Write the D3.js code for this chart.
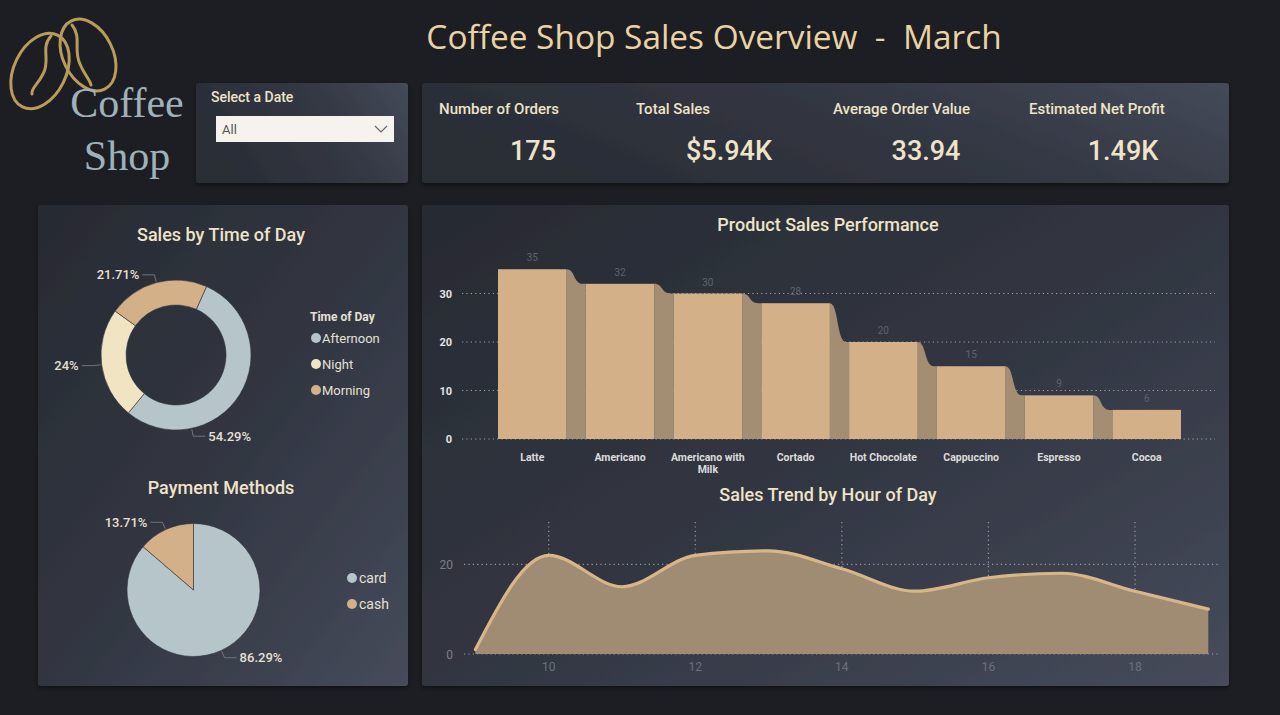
<!DOCTYPE html>
<html><head><meta charset="utf-8">
<script src="https://cdn.jsdelivr.net/npm/d3@7"></script>
<style>
html,body{margin:0;padding:0;background:#1d1e23;overflow:hidden;}
svg{display:block;}
</style></head>
<body>
<svg id="c" width="1280" height="715"></svg>
<script>
// ---------- DATA ----------
const products = ["Latte","Americano","Americano with Milk","Cortado","Hot Chocolate","Cappuccino","Espresso","Cocoa"];
const productSales = [35,32,30,28,20,15,9,6];
const barTicks = [0,10,20,30];

const hours = [9,10,11,12,13,14,15,16,17,18,19];
const hourSales = [1,22,15,22,23,19,14,17,18,14,10];
const hourTicks = [10,12,14,16,18];
const hourYTicks = [0,20];

const timeOfDay = ["Afternoon","Night","Morning"];
const timeOfDaySales = [95,42,38];
const timeOfDayLabels = ["54.29%","24%","21.71%"];

const payMethods = ["card","cash"];
const paySales = [151,24];
const payLabels = ["86.29%","13.71%"];

const kpiNames = ["Number of Orders","Total Sales","Average Order Value","Estimated Net Profit"];
const kpiValues = ["175","$5.94K","33.94","1.49K"];

// ---------- STYLE ----------
const cream = "#efe3c8";
const tan = "#d3b088";
const ribbon = "#a38d73";
const blueGray = "#b6c5ca";
const nightCol = "#f1e4c2";
const font = "Roboto, 'Open Sans', sans-serif";

const svg = d3.select("#c");
const defs = svg.append("defs");
const g1 = defs.append("linearGradient").attr("id","pg").attr("x1","0").attr("y1","0").attr("x2","1").attr("y2","1");
g1.append("stop").attr("offset","0%").attr("stop-color","#272a32");
g1.append("stop").attr("offset","55%").attr("stop-color","#333743");
g1.append("stop").attr("offset","100%").attr("stop-color","#464b5b");
const g2 = defs.append("linearGradient").attr("id","pg2").attr("x1","0").attr("y1","0.3").attr("x2","1").attr("y2","0");
g2.append("stop").attr("offset","0%").attr("stop-color","#2a2d36");
g2.append("stop").attr("offset","60%").attr("stop-color","#353945");
g2.append("stop").attr("offset","100%").attr("stop-color","#454a59");
const sh = defs.append("filter").attr("id","sh").attr("x","-5%").attr("y","-5%").attr("width","110%").attr("height","115%");
sh.append("feDropShadow").attr("dx",0).attr("dy",2).attr("stdDeviation",2).attr("flood-color","#000").attr("flood-opacity",0.45);

svg.append("rect").attr("width",1280).attr("height",715).attr("fill","#1d1e23");

function panel(x,y,w,h,fill){
  svg.append("rect").attr("x",x).attr("y",y).attr("width",w).attr("height",h).attr("rx",3)
    .attr("fill",fill||"url(#pg)").attr("filter","url(#sh)");
}
panel(196,83,212,100,"url(#pg2)");
panel(422,83,807,100,"url(#pg2)");
panel(38,205,370,481);
panel(422,205,807,481);

// ---------- TITLE ----------
svg.append("text").attr("x",714).attr("y",49).attr("text-anchor","middle")
  .attr("font-family","'Open Sans', sans-serif").attr("font-size",33.4).attr("fill","#e9d3a5")
  .text("Coffee Shop Sales Overview  -  March").attr("xml:space","preserve").style("white-space","pre");

// ---------- LOGO ----------
const logo = svg.append("g").attr("fill","none").attr("stroke","#b99b5c").attr("stroke-width",3).attr("stroke-linecap","round");
logo.append("ellipse").attr("cx",40).attr("cy",71).attr("rx",26).attr("ry",40).attr("transform","rotate(26,40,71)");
logo.append("path").attr("d","M51,36 C40,48 51,60 43,74 C37,86 31,88 32,94");
logo.append("ellipse").attr("cx",88).attr("cy",55).attr("rx",25).attr("ry",38).attr("transform","rotate(-26,88,55)");
logo.append("path").attr("d","M72,25 C82,37 73,50 80,64 C84,74 90,80 91,85");
svg.append("text").attr("x",127).attr("y",117).attr("text-anchor","middle")
  .attr("font-family","'Liberation Serif', serif").attr("font-size",42).attr("fill","#9fb1b9").text("Coffee");
svg.append("text").attr("x",127).attr("y",170).attr("text-anchor","middle")
  .attr("font-family","'Liberation Serif', serif").attr("font-size",42).attr("fill","#9fb1b9").text("Shop");

// ---------- SLICER ----------
svg.append("text").attr("x",211).attr("y",102).attr("font-family",font).attr("font-weight",500)
  .attr("font-size",14).attr("fill",cream).text("Select a Date");
svg.append("rect").attr("x",216).attr("y",116).attr("width",178).attr("height",26).attr("fill","#f6f3ee");
svg.append("text").attr("x",222).attr("y",134).attr("font-family",font).attr("font-size",13).attr("fill","#555").text("All");
svg.append("path").attr("d","M375,126 l6,6 l6,-6").attr("fill","none").attr("stroke","#666").attr("stroke-width",1.2);

// ---------- KPIs ----------
const kpiX = [439,636,833,1029];
const kpiVX = [533,729,926,1123];
kpiNames.forEach((n,i)=>{
  svg.append("text").attr("x",kpiX[i]).attr("y",114).attr("font-family",font).attr("font-weight",500)
    .attr("font-size",15).attr("fill",cream).text(n);
  svg.append("text").attr("x",kpiVX[i]).attr("y",160).attr("text-anchor","middle").attr("font-family",font)
    .attr("font-weight",500).attr("font-size",27).attr("fill",cream).text(kpiValues[i]);
});

// ---------- PANEL TITLES ----------
function title(x,y,t){
  svg.append("text").attr("x",x).attr("y",y).attr("text-anchor","middle").attr("font-family",font)
    .attr("font-weight",500).attr("font-size",18).attr("fill",cream).text(t);
}
title(221,241,"Sales by Time of Day");
title(221,494,"Payment Methods");
title(828,231,"Product Sales Performance");
title(828,501,"Sales Trend by Hour of Day");

// ---------- PIE helper ----------
function drawPie(cx,cy,rOut,rIn,values,colors,labels,startOffset,labelAngleOverride){
  const pie = d3.pie().sort(null).value(d=>d).startAngle(startOffset).endAngle(startOffset+2*Math.PI);
  const arcs = pie(values);
  const arc = d3.arc().innerRadius(rIn).outerRadius(rOut);
  const g = svg.append("g").attr("transform",`translate(${cx},${cy})`);
  g.selectAll("path.s").data(arcs).join("path").attr("class","s").attr("d",arc)
    .attr("fill",(d,i)=>colors[i]).attr("stroke","#2f323c").attr("stroke-width",0.6);
  arcs.forEach((a,i)=>{
    let ang = (a.startAngle+a.endAngle)/2;
    if(labelAngleOverride && labelAngleOverride[i]!=null) ang = labelAngleOverride[i];
    const s = Math.sin(ang), c = -Math.cos(ang);
    const p1 = [s*(rOut+1), c*(rOut+1)];
    const p2 = [s*(rOut+8), c*(rOut+8)];
    const dir = s>=0?1:-1;
    const p3 = [p2[0]+dir*12, p2[1]];
    g.append("path").attr("d",`M${p1}L${p2}L${p3}`).attr("fill","none").attr("stroke","#70747e").attr("stroke-width",1);
    g.append("text").attr("x",p3[0]+dir*3).attr("y",p3[1]+4.5).attr("text-anchor",dir>0?"start":"end")
      .attr("font-family",font).attr("font-weight",500).attr("font-size",13).attr("fill","#e6e0d2").text(labels[i]);
  });
}
drawPie(176,355,75,50,timeOfDaySales,[blueGray,nightCol,tan],timeOfDayLabels,24*Math.PI/180,[168*Math.PI/180,null,null]);
drawPie(193.5,590,66.5,0,paySales,[blueGray,tan],payLabels,0,null);

// legends
svg.append("text").attr("x",310).attr("y",321).attr("font-family",font).attr("font-weight",700)
  .attr("font-size",12).attr("fill","#e6e0d2").text("Time of Day");
timeOfDay.forEach((t,i)=>{
  const y = 337+i*26;
  svg.append("circle").attr("cx",316).attr("cy",y+1).attr("r",5).attr("fill",[blueGray,nightCol,tan][i]);
  svg.append("text").attr("x",322).attr("y",y+5.5).attr("font-family",font).attr("font-size",13).attr("fill","#e6e0d2").text(t);
});
payMethods.forEach((t,i)=>{
  const y = 577+i*26;
  svg.append("circle").attr("cx",352).attr("cy",y+1).attr("r",5).attr("fill",[blueGray,tan][i]);
  svg.append("text").attr("x",359).attr("y",y+5.5).attr("font-family",font).attr("font-size",14).attr("fill","#e6e0d2").text(t);
});

// ---------- BAR / RIBBON CHART ----------
const x = d3.scaleBand().domain(products).range([498,1181]).paddingInner(0.219).paddingOuter(0);
const y = d3.scaleLinear().domain([0,30]).range([439,293.5]);
const bg = svg.append("g");
bg.selectAll("line.g").data(barTicks).join("line").attr("x1",462).attr("x2",1215)
  .attr("y1",d=>y(d)).attr("y2",d=>y(d)).attr("stroke","#b8bcc6").attr("stroke-width",1.2)
  .attr("stroke-dasharray","1.2,3.2").attr("opacity",0.8);
bg.selectAll("text.yl").data(barTicks).join("text").attr("x",452).attr("y",d=>y(d)+4)
  .attr("text-anchor","end").attr("font-family",font).attr("font-weight",700).attr("font-size",11)
  .attr("fill","#e4e4e4").text(d=>d);
// ribbons
const bw = x.bandwidth();
for(let i=0;i<products.length-1;i++){
  const x0 = x(products[i])+bw, x1 = x(products[i+1]), gap = x1-x0;
  const yi = y(productSales[i]), yj = y(productSales[i+1]), y0 = y(0);
  bg.append("path").attr("d",`M${x0},${yi} C${x0+gap*0.45},${yi} ${x0+gap*0.35},${yj} ${x0+gap*0.85},${yj} L${x1},${yj} L${x1},${y0} L${x0},${y0} Z`)
    .attr("fill",ribbon);
}
bg.selectAll("rect.b").data(products).join("rect").attr("x",d=>x(d)).attr("width",bw)
  .attr("y",(d,i)=>y(productSales[i])).attr("height",(d,i)=>y(0)-y(productSales[i])).attr("fill",tan);
bg.selectAll("text.v").data(products).join("text").attr("x",d=>x(d)+bw/2).attr("y",(d,i)=>y(productSales[i])-8)
  .attr("text-anchor","middle").attr("font-family",font).attr("font-size",10).attr("fill","#5f636f")
  .text((d,i)=>productSales[i]);
products.forEach(p=>{
  const t = bg.append("text").attr("x",x(p)+bw/2).attr("y",461).attr("text-anchor","middle")
    .attr("font-family",font).attr("font-weight",700).attr("font-size",10.5).attr("fill","#dcdcdc");
  if(p==="Americano with Milk"){
    t.append("tspan").attr("x",x(p)+bw/2).attr("dy",0).text("Americano with");
    t.append("tspan").attr("x",x(p)+bw/2).attr("dy",12).text("Milk");
  } else t.text(p);
});

// ---------- AREA CHART ----------
const hx = d3.scaleLinear().domain([10,18]).range([548.7,1135]);
const hy = d3.scaleLinear().domain([0,20]).range([654,564.3]);
const ag = svg.append("g");
ag.selectAll("line.v").data(hourTicks).join("line").attr("x1",d=>hx(d)).attr("x2",d=>hx(d))
  .attr("y1",522).attr("y2",654).attr("stroke","#b8bcc6").attr("stroke-width",1.2)
  .attr("stroke-dasharray","1.2,3.2").attr("opacity",0.75);
ag.selectAll("line.h").data(hourYTicks).join("line").attr("x1",464).attr("x2",1218)
  .attr("y1",d=>hy(d)).attr("y2",d=>hy(d)).attr("stroke","#b8bcc6").attr("stroke-width",1.2)
  .attr("stroke-dasharray","1.2,3.2").attr("opacity",0.75);
const curve = d3.curveMonotoneX;
ag.append("path").datum(hours).attr("d",d3.area().x(d=>hx(d)).y0(hy(0)).y1((d,i)=>hy(hourSales[i])).curve(curve))
  .attr("fill","#a08b73");
ag.append("path").datum(hours).attr("d",d3.line().x(d=>hx(d)).y((d,i)=>hy(hourSales[i])).curve(curve))
  .attr("fill","none").attr("stroke","#d9b688").attr("stroke-width",3.2).attr("stroke-linecap","round");
ag.selectAll("text.yl").data(hourYTicks).join("text").attr("x",453).attr("y",d=>hy(d)+4.5)
  .attr("text-anchor","end").attr("font-family",font).attr("font-size",12).attr("fill","#7b7f89").text(d=>d);
ag.selectAll("text.xl").data(hourTicks).join("text").attr("x",d=>hx(d)).attr("y",671)
  .attr("text-anchor","middle").attr("font-family",font).attr("font-size",12).attr("fill","#6c707a").text(d=>d);
</script>
</body></html>
